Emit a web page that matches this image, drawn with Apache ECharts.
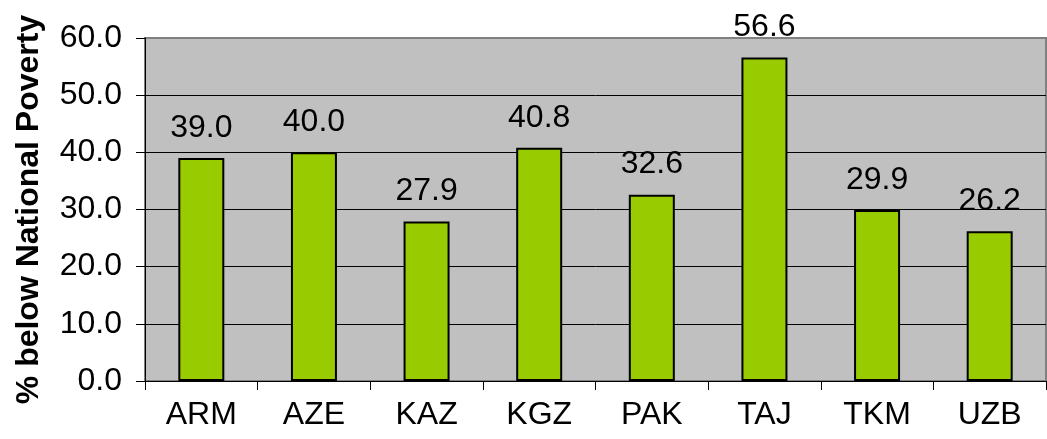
<!DOCTYPE html>
<html>
<head>
<meta charset="utf-8">
<script src="https://cdn.jsdelivr.net/npm/echarts@6/dist/echarts.min.js"></script>
<style>html,body{margin:0;padding:0;background:#fff;}#c{width:1047px;height:439px;}</style>
</head>
<body>
<div id="c"></div>
<script>
const categories = ['ARM', 'AZE', 'KAZ', 'KGZ', 'PAK', 'TAJ', 'TKM', 'UZB'];
const povertyValues = [39.0, 40.0, 27.9, 40.8, 32.6, 56.6, 29.9, 26.2];
const yAxisTitle = '% below National Poverty';
const yMin = 0, yMax = 60, yStep = 10;

const chart = echarts.init(document.getElementById('c'), null, { renderer: 'canvas' });
const font = '"Liberation Sans", Arial, sans-serif';
chart.setOption({
  animation: false,
  grid: {
    left: 145, top: 38, right: 1, bottom: 58,
    containLabel: false,
    outerBoundsMode: 'none',
    show: true, backgroundColor: '#C0C0C0', borderColor: '#808080', borderWidth: 2
  },
  xAxis: {
    type: 'category',
    data: categories,
    axisLine: { lineStyle: { color: '#000', width: 1 } },
    axisTick: { show: true, length: 9, lineStyle: { color: '#000' } },
    axisLabel: { color: '#000', fontFamily: font, fontSize: 32, margin: 18 }
  },
  yAxis: {
    type: 'value',
    min: yMin, max: yMax, interval: yStep,
    name: yAxisTitle,
    nameLocation: 'middle',
    nameRotate: 90,
    nameGap: 100,
    nameTextStyle: { color: '#000', fontFamily: font, fontSize: 32, fontWeight: 'bold' },
    axisLine: { show: true, lineStyle: { color: '#000', width: 1 } },
    axisTick: { show: true, length: 9, lineStyle: { color: '#000' } },
    axisLabel: { color: '#000', fontFamily: font, fontSize: 32, margin: 23,
      formatter: v => v.toFixed(1) },
    splitLine: { show: true, lineStyle: { color: ['#000','#000','#000','#000','#000','#000','#808080'], width: 1 } }
  },
  series: [{
    type: 'bar',
    data: povertyValues,
    barWidth: 46,
    itemStyle: { color: '#99CC00', borderColor: '#000', borderWidth: 2 },
    label: {
      show: true, position: 'top', distance: 14,
      color: '#000', fontFamily: font, fontSize: 32,
      formatter: p => p.value.toFixed(1)
    }
  }]
});
</script>
</body>
</html>
